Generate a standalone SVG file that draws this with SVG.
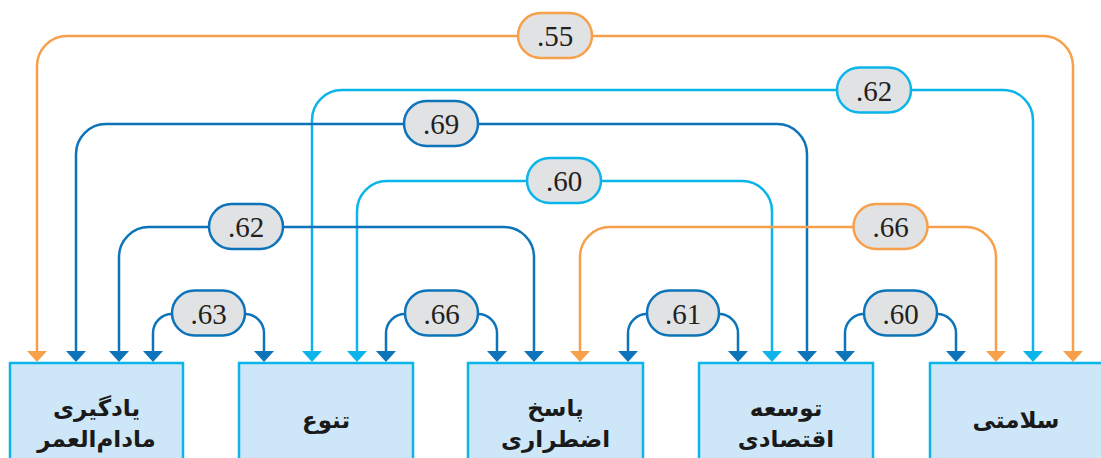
<svg xmlns="http://www.w3.org/2000/svg" width="1101" height="458" viewBox="0 0 1101 458">
<style>
.c{fill:none;stroke-width:2.5}
.or{stroke:#F7A04B}
.cy{stroke:#0BB5EA}
.db{stroke:#0E74BA}
.pill{fill:#E1E2E4;stroke-width:2.5}
.pt{font-family:"Liberation Serif",serif;font-size:29px;fill:#231F20;text-anchor:middle}
.box{fill:#CDE7F8;stroke:#0BB5EA;stroke-width:2.5}
.bt{font-family:"DejaVu Sans",sans-serif;font-weight:bold;font-size:23px;fill:#1A1A1A;text-anchor:middle}
</style>
<defs>
<marker id="mo" viewBox="0 0 11 20" refX="0" refY="10" markerWidth="11" markerHeight="20" markerUnits="userSpaceOnUse" orient="auto-start-reverse"><path d="M0,0 L11,10 L0,20 z" fill="#F7A04B"/></marker>
<marker id="mc" viewBox="0 0 11 20" refX="0" refY="10" markerWidth="11" markerHeight="20" markerUnits="userSpaceOnUse" orient="auto-start-reverse"><path d="M0,0 L11,10 L0,20 z" fill="#0BB5EA"/></marker>
<marker id="md" viewBox="0 0 11 20" refX="0" refY="10" markerWidth="11" markerHeight="20" markerUnits="userSpaceOnUse" orient="auto-start-reverse"><path d="M0,0 L11,10 L0,20 z" fill="#0E74BA"/></marker>
</defs>
<g id="connectors">
<path class="c or" d="M37,351 V66 A30,30 0 0 1 67,36 H1043 A30,30 0 0 1 1073,66 V351" marker-start="url(#mo)" marker-end="url(#mo)"/>
<path class="c cy" d="M312,351 V120 A30,30 0 0 1 342,90 H1003 A30,30 0 0 1 1033,120 V351" marker-start="url(#mc)" marker-end="url(#mc)"/>
<path class="c db" d="M76,351 V154 A30,30 0 0 1 106,124 H777 A30,30 0 0 1 807,154 V351" marker-start="url(#md)" marker-end="url(#md)"/>
<path class="c cy" d="M357,351 V211 A30,30 0 0 1 387,181 H742 A30,30 0 0 1 772,211 V351" marker-start="url(#mc)" marker-end="url(#mc)"/>
<path class="c db" d="M119,351 V257 A30,30 0 0 1 149,227 H504 A30,30 0 0 1 534,257 V351" marker-start="url(#md)" marker-end="url(#md)"/>
<path class="c or" d="M580,351 V257 A30,30 0 0 1 610,227 H966 A30,30 0 0 1 996,257 V351" marker-start="url(#mo)" marker-end="url(#mo)"/>
<path class="c db" d="M153,351 V333 A19,19 0 0 1 172,314 H245 A19,19 0 0 1 264,333 V351" marker-start="url(#md)" marker-end="url(#md)"/>
<path class="c db" d="M386,351 V333 A19,19 0 0 1 405,314 H478 A19,19 0 0 1 497,333 V351" marker-start="url(#md)" marker-end="url(#md)"/>
<path class="c db" d="M628,351 V333 A19,19 0 0 1 647,314 H719 A19,19 0 0 1 738,333 V351" marker-start="url(#md)" marker-end="url(#md)"/>
<path class="c db" d="M845,351 V333 A19,19 0 0 1 864,314 H937 A19,19 0 0 1 956,333 V351" marker-start="url(#md)" marker-end="url(#md)"/>
</g>
<g id="labels">
<g id="l55"><rect class="pill or" x="518" y="13" width="74" height="45" rx="22.5"/><text class="pt" x="555" y="46">.55</text></g>
<g id="l62a"><rect class="pill cy" x="837" y="67.5" width="74" height="45" rx="22.5"/><text class="pt" x="874" y="100.5">.62</text></g>
<g id="l69"><rect class="pill db" x="404" y="101" width="74" height="45" rx="22.5"/><text class="pt" x="441" y="134">.69</text></g>
<g id="l60a"><rect class="pill cy" x="527" y="158" width="74" height="45" rx="22.5"/><text class="pt" x="564" y="191">.60</text></g>
<g id="l62b"><rect class="pill db" x="209" y="204" width="74" height="45" rx="22.5"/><text class="pt" x="246" y="237">.62</text></g>
<g id="l66a"><rect class="pill or" x="853.5" y="204" width="74" height="45" rx="22.5"/><text class="pt" x="890.5" y="237">.66</text></g>
<g id="l63"><rect class="pill db" x="172" y="290.5" width="73" height="45" rx="22.5"/><text class="pt" x="208.5" y="323.5">.63</text></g>
<g id="l66b"><rect class="pill db" x="405" y="290.5" width="73" height="45" rx="22.5"/><text class="pt" x="441.5" y="323.5">.66</text></g>
<g id="l61"><rect class="pill db" x="647" y="290.5" width="72" height="45" rx="22.5"/><text class="pt" x="683" y="323.5">.61</text></g>
<g id="l60b"><rect class="pill db" x="864" y="290.5" width="73" height="45" rx="22.5"/><text class="pt" x="900.5" y="323.5">.60</text></g>
</g>
<g id="n1"><rect class="box" x="10" y="363" width="173" height="110"/><text class="bt" x="96.5" y="416">یادگیری</text><text class="bt" x="96.5" y="447">مادام‌العمر</text></g>
<g id="n2"><rect class="box" x="239" y="363" width="174" height="110"/><text class="bt" x="326" y="428">تنوع</text></g>
<g id="n3"><rect class="box" x="468" y="363" width="175" height="110"/><text class="bt" x="555.5" y="416">پاسخ</text><text class="bt" x="555.5" y="447">اضطراری</text></g>
<g id="n4"><rect class="box" x="699" y="363" width="174" height="110"/><text class="bt" x="786" y="416">توسعه</text><text class="bt" x="786" y="447">اقتصادی</text></g>
<g id="n5"><rect class="box" x="930" y="363" width="180" height="110"/><text class="bt" x="1016" y="428">سلامتی</text></g>
</svg>
